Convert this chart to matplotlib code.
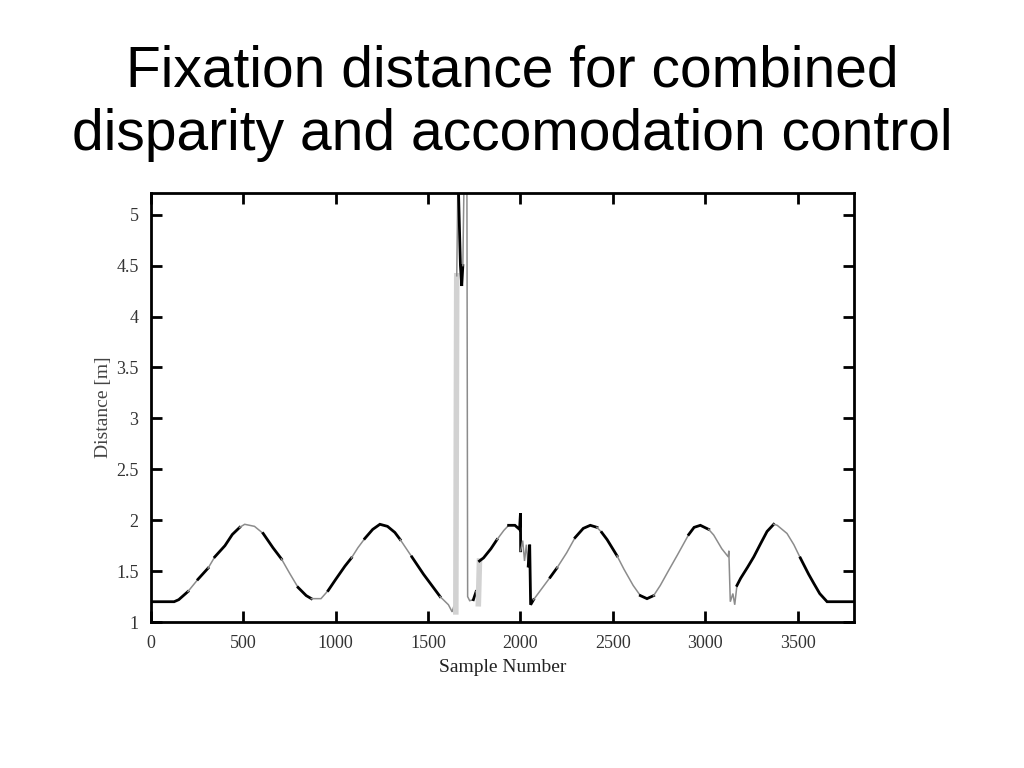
import matplotlib
matplotlib.use('Agg')
import matplotlib.pyplot as plt
import numpy as np

# trace; controller[i] tells how segment i -> i+1 is drawn
sample = [0, 125, 150, 200, 254, 309, 345, 400, 440, 480,
          507, 560, 607, 660, 706, 750, 796, 840, 868, 920,
          959, 1000, 1050, 1085, 1120, 1157, 1200, 1239, 1280, 1320,
          1349, 1412, 1475, 1520, 1565, 1610, 1630, 1640, 1650, 1655,
          1662, 1675, 1682, 1688, 1695, 1710, 1714, 1725, 1745, 1760,
          1772, 1778, 1800, 1840, 1873, 1910, 1936, 1970, 1995, 2000,
          2001, 2012, 2022, 2032, 2042, 2050, 2055, 2071, 2120, 2161,
          2197, 2250, 2296, 2340, 2378, 2414, 2440, 2469, 2523, 2560,
          2610, 2649, 2685, 2721, 2757, 2800, 2850, 2911, 2940, 2974,
          3019, 3046, 3090, 3125, 3128, 3136, 3150, 3160, 3172, 3192,
          3230, 3263, 3300, 3335, 3371, 3390, 3443, 3480, 3515, 3560,
          3588, 3620, 3660, 3803]
distance = [1.20, 1.20, 1.22, 1.30, 1.42, 1.53, 1.64, 1.75, 1.86, 1.93,
            1.96, 1.94, 1.87, 1.73, 1.62, 1.48, 1.34, 1.26, 1.23, 1.23,
            1.31, 1.42, 1.55, 1.63, 1.73, 1.82, 1.91, 1.96, 1.94, 1.88,
            1.81, 1.64, 1.47, 1.36, 1.25, 1.17, 1.10, 1.16, 1.10, 4.40,
            5.40, 4.50, 4.30, 4.50, 5.40, 5.40, 1.25, 1.21, 1.22, 1.30,
            1.18, 1.60, 1.63, 1.72, 1.81, 1.90, 1.95, 1.95, 1.91, 2.07,
            1.70, 1.80, 1.60, 1.76, 1.55, 1.76, 1.17, 1.22, 1.34, 1.44,
            1.53, 1.68, 1.83, 1.92, 1.95, 1.93, 1.88, 1.81, 1.65, 1.52,
            1.36, 1.26, 1.23, 1.26, 1.36, 1.50, 1.66, 1.86, 1.93, 1.95,
            1.91, 1.855, 1.72, 1.64, 1.70, 1.20, 1.28, 1.17, 1.36, 1.43,
            1.54, 1.64, 1.77, 1.89, 1.96, 1.95, 1.87, 1.76, 1.63, 1.47,
            1.38, 1.28, 1.20, 1.20]
controller = list("AAADADAAAD" "DDAADDAADD" "AAADDAAAAA"
                  "DAAADDDDSD" "AAADDDDDAD" "SAAADDAAAA"
                  "DDDDAAADDA" "DDAAADAADD" "DAADDDDAAA"
                  "DDDDDDDDAA" "AAAADDDDAA" "AAAA")

styles = {
    'A': dict(color='black', lw=2.0),
    'D': dict(color='#8c8c8c', lw=1.1),
    'S': dict(color='#d2d2d2', lw=4.0),
}

fig = plt.figure(figsize=(10.24, 7.68), dpi=100)
ax = fig.add_axes([0.1475, 0.19, 0.686, 0.559])

x = np.array(sample)
y = np.array(distance)
i = 0
n = len(x)
while i < n - 1:
    j = i
    while j < n - 1 and controller[j] == controller[i]:
        j += 1
    ax.plot(x[i:j + 1], y[i:j + 1], solid_joinstyle='miter', **styles[controller[i]])
    i = j

ax.set_xlim(0, 3803)
ax.set_ylim(1, 5.215)
ax.set_xticks([0, 500, 1000, 1500, 2000, 2500, 3000, 3500])
ax.set_yticks([1, 1.5, 2, 2.5, 3, 3.5, 4, 4.5, 5])
ax.set_yticklabels(['1', '1.5', '2', '2.5', '3', '3.5', '4', '4.5', '5'])

for s in ax.spines.values():
    s.set_linewidth(2)
ax.tick_params(direction='in', length=8, width=2, top=True, right=True,
               labelsize=13, colors='black')
ax.tick_params(axis='x', pad=9)
ax.tick_params(axis='y', pad=9)
for lab in ax.get_xticklabels() + ax.get_yticklabels():
    lab.set_family('Liberation Serif')
    lab.set_color('#333333')

ax.set_xlabel('Sample Number', family='Liberation Serif', fontsize=14,
              color='#222222', labelpad=5)
ax.set_ylabel('Distance [m]', family='Liberation Serif', fontsize=14,
              color='#444444', labelpad=3)

fig.text(0.5, 0.942, 'Fixation distance for combined\ndisparity and accomodation control',
         ha='center', va='top', fontsize=41, linespacing=1.22,
         family=['Liberation Sans', 'DejaVu Sans'])

fig.savefig('out.png', dpi=100)
